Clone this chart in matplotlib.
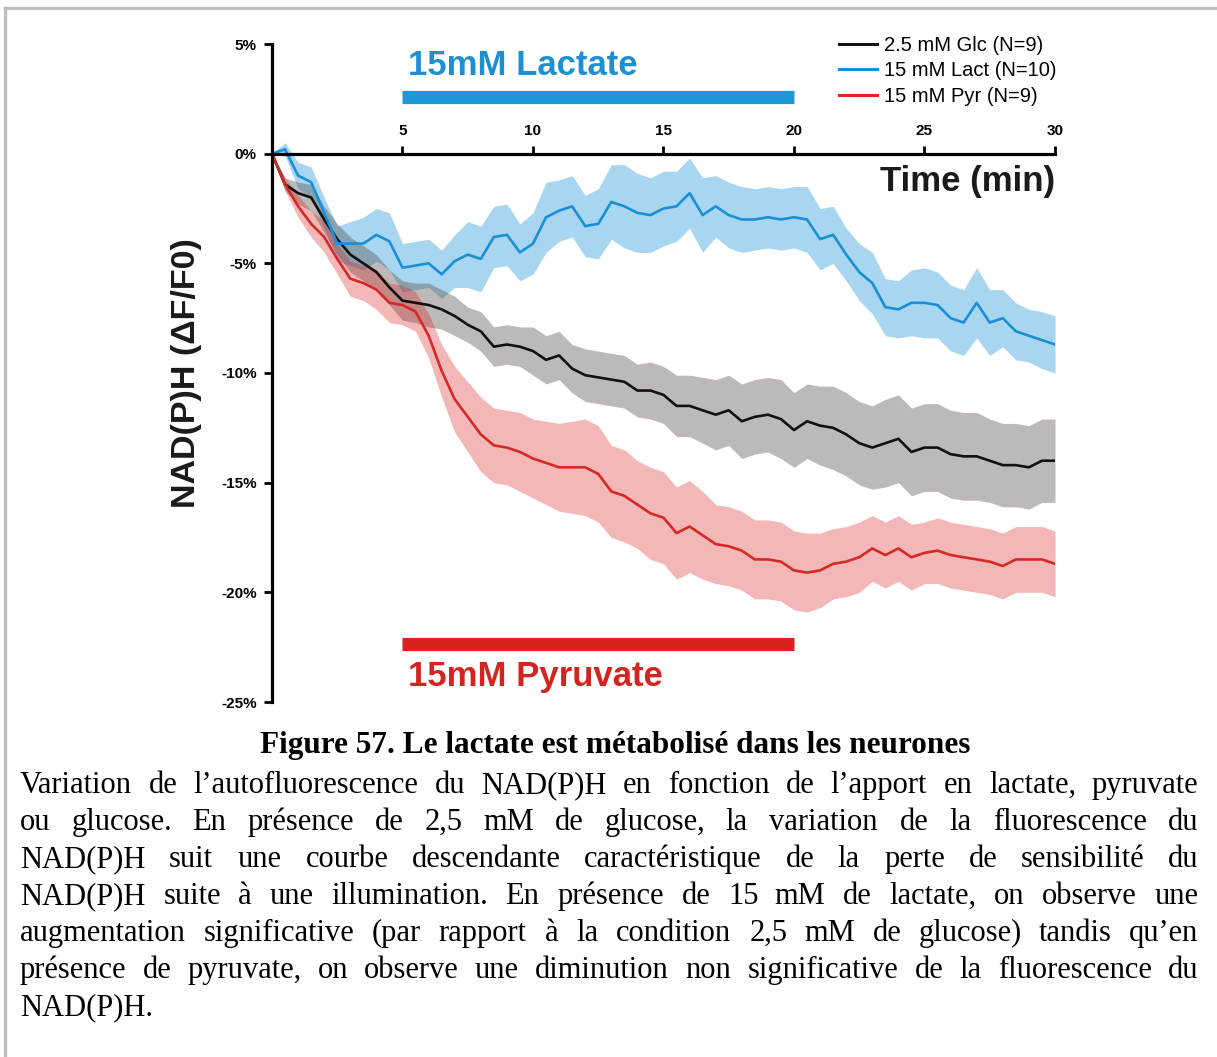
import numpy as np
import matplotlib
matplotlib.use("Agg")
import matplotlib.pyplot as plt
from matplotlib.lines import Line2D
from matplotlib.textpath import TextPath
from matplotlib.font_manager import FontProperties

# ---------------- data ----------------
time_min = np.linspace(0, 30, 61)

glc_mean = [0.0, -1.4, -1.8, -2.0, -3.0, -3.9, -4.6, -5.0, -5.4, -6.1,
            -6.7, -6.8, -6.9, -7.1, -7.4, -7.8, -8.1, -8.8, -8.7, -8.8,
            -9.0, -9.4, -9.2, -9.8, -10.1, -10.2, -10.3, -10.4, -10.8, -10.8,
            -11.0, -11.5, -11.5, -11.7, -11.9, -11.7, -12.2, -12.0, -11.9, -12.1,
            -12.6, -12.2, -12.4, -12.5, -12.8, -13.2, -13.4, -13.2, -13.0, -13.6,
            -13.4, -13.4, -13.7, -13.8, -13.8, -14.0, -14.2, -14.2, -14.3, -14.0,
            -14.0]
glc_sem = [0.0, 0.3, 0.5, 0.6, 0.6, 0.7, 0.8, 0.8, 0.8, 0.8,
           0.9, 0.9, 1.0, 0.9, 0.9, 0.8, 0.9, 0.9, 0.9, 0.9,
           1.1, 1.1, 1.1, 1.1, 1.2, 1.2, 1.2, 1.2, 1.2, 1.3,
           1.3, 1.4, 1.4, 1.5, 1.6, 1.6, 1.7, 1.7, 1.7, 1.8,
           1.7, 1.7, 1.8, 1.9, 1.9, 1.9, 1.9, 2.0, 2.0, 2.0,
           2.0, 2.0, 2.0, 2.0, 2.0, 1.9, 1.9, 1.9, 1.9, 1.9,
           1.9]

lact_mean = [0.0, 0.2, -1.0, -1.3, -2.7, -4.1, -4.1, -4.1, -3.7, -4.0,
             -5.2, -5.1, -5.0, -5.5, -4.9, -4.6, -4.8, -3.8, -3.7, -4.5,
             -4.1, -2.9, -2.6, -2.4, -3.3, -3.2, -2.2, -2.4, -2.7, -2.8,
             -2.5, -2.4, -1.8, -2.8, -2.4, -2.8, -3.0, -3.0, -2.9, -3.0,
             -2.9, -3.0, -3.9, -3.7, -4.6, -5.4, -5.9, -7.0, -7.1, -6.8,
             -6.8, -6.9, -7.5, -7.7, -6.8, -7.7, -7.5, -8.1, -8.3, -8.5,
             -8.7]
lact_sem = [0.0, 0.3, 0.6, 0.7, 0.7, 0.8, 1.0, 1.2, 1.2, 1.3,
            1.1, 1.1, 1.1, 1.1, 1.2, 1.5, 1.5, 1.4, 1.4, 1.3,
            1.4, 1.6, 1.4, 1.4, 1.4, 1.6, 1.7, 1.9, 1.8, 1.7,
            1.7, 1.6, 1.6, 1.7, 1.4, 1.5, 1.5, 1.4, 1.4, 1.4,
            1.4, 1.5, 1.4, 1.3, 1.2, 1.3, 1.4, 1.3, 1.3, 1.5,
            1.6, 1.5, 1.5, 1.5, 1.6, 1.5, 1.3, 1.3, 1.2, 1.3,
            1.3]

pyr_mean = [0.0, -1.4, -2.4, -3.2, -3.8, -4.8, -5.7, -5.9, -6.2, -6.8,
            -6.9, -7.2, -8.3, -9.9, -11.2, -12.0, -12.8, -13.3, -13.4, -13.6,
            -13.9, -14.1, -14.3, -14.3, -14.3, -14.6, -15.4, -15.6, -16.0, -16.4,
            -16.6, -17.3, -17.0, -17.4, -17.8, -17.9, -18.1, -18.5, -18.5, -18.6,
            -19.0, -19.1, -19.0, -18.7, -18.6, -18.4, -18.0, -18.3, -18.0, -18.4,
            -18.2, -18.1, -18.3, -18.4, -18.5, -18.6, -18.8, -18.5, -18.5, -18.5,
            -18.7]
pyr_sem = [0.0, 0.3, 0.5, 0.6, 0.7, 0.7, 0.8, 0.8, 0.9, 0.9,
           0.9, 0.9, 1.0, 1.2, 1.5, 1.6, 1.7, 1.7, 1.7, 1.8,
           1.8, 1.9, 2.0, 2.1, 2.2, 2.2, 2.1, 2.1, 2.0, 2.1,
           2.1, 2.1, 2.1, 2.0, 1.8, 1.8, 1.8, 1.8, 1.8, 1.8,
           1.8, 1.8, 1.7, 1.6, 1.6, 1.6, 1.5, 1.5, 1.5, 1.5,
           1.4, 1.5, 1.5, 1.5, 1.5, 1.5, 1.5, 1.5, 1.5, 1.5,
           1.5]

series_labels = ["2.5 mM Glc (N=9)", "15 mM Lact (N=10)", "15 mM Pyr (N=9)"]
lactate_period = (5, 20)
pyruvate_period = (5, 20)
x_ticks = [5, 10, 15, 20, 25, 30]
y_ticks = [5, 0, -5, -10, -15, -20, -25]
y_tick_labels = ["5%", "0%", "-5%", "-10%", "-15%", "-20%", "-25%"]

caption_title = "Figure 57. Le lactate est métabolisé dans les neurones"
caption_lines = [
    "Variation de l’autofluorescence du NAD(P)H en fonction de l’apport en lactate, pyruvate",
    "ou glucose. En présence de 2,5 mM de glucose, la variation de la fluorescence du",
    "NAD(P)H suit une courbe descendante caractéristique de la perte de sensibilité du",
    "NAD(P)H suite à une illumination. En présence de 15 mM de lactate, on observe une",
    "augmentation significative (par rapport à la condition 2,5 mM de glucose) tandis qu’en",
    "présence de pyruvate, on observe une diminution non significative de la fluorescence du",
    "NAD(P)H.",
]

# ---------------- style ----------------
W, H = 1217, 1057
DPI = 100
sans = ["Liberation Sans", "DejaVu Sans"]
serif = ["Liberation Serif", "DejaVu Serif"]
c_glc, c_glc_fill = "#111111", "#5a524e"
c_lact, c_lact_fill = "#1a8fd6", "#1a95dc"
c_pyr, c_pyr_fill = "#d42a26", "#dc2020"

fig = plt.figure(figsize=(W / DPI, H / DPI), dpi=DPI)
fig.patch.set_facecolor("white")

def fx(px):
    return px / W

def fy(py):
    return 1 - py / H

ax = fig.add_axes([fx(272), fy(702), fx(1055) - fx(272), fy(44) - fy(702)])
ax.set_xlim(0, 30)
ax.set_ylim(-25, 5)

t = time_min
for mean, sem, fc, a in [(lact_mean, lact_sem, c_lact_fill, 0.38),
                         (glc_mean, glc_sem, c_glc_fill, 0.40),
                         (pyr_mean, pyr_sem, c_pyr_fill, 0.32)]:
    m = np.array(mean); s = np.array(sem)
    ax.fill_between(t, m - s, m + s, color=fc, alpha=a, lw=0)

h_glc, = ax.plot(t, glc_mean, color=c_glc, lw=1.9)
h_lact, = ax.plot(t, lact_mean, color=c_lact, lw=1.9)
h_pyr, = ax.plot(t, pyr_mean, color=c_pyr, lw=1.9)

# treatment bars
ax.plot(lactate_period, [2.6, 2.6], color="#1e98d8", lw=9.5, solid_capstyle="butt")
ax.text(lactate_period[0] + 0.2, 4.0, "15mM Lactate", color="#1e90d2", fontsize=25,
        fontweight="bold", family=sans, ha="left", va="center")
ax.plot(pyruvate_period, [-22.37, -22.37], color="#d9231f", lw=9.5, solid_capstyle="butt")
ax.text(pyruvate_period[0] + 0.2, -23.85, "15mM Pyruvate", color="#d42420", fontsize=25,
        fontweight="bold", family=sans, ha="left", va="center")

ax.text(30, -1.25, "Time (min)", color="#1a1a1a", fontsize=25, fontweight="bold",
        family=sans, ha="right", va="center")

# axes styling
for sp in ["right", "bottom"]:
    ax.spines[sp].set_visible(False)
ax.spines["top"].set_position(("data", 0))
ax.spines["top"].set_linewidth(2.3)
ax.spines["left"].set_linewidth(2.3)
ax.xaxis.set_ticks_position("top")
ax.set_xticks(x_ticks)
ax.set_xticklabels([str(v) for v in x_ticks])
ax.set_yticks(y_ticks)
ax.set_yticklabels(y_tick_labels)
ax.tick_params(axis="x", direction="out", length=6, width=2.0, pad=5, labelsize=11)
ax.tick_params(axis="y", direction="out", length=6, width=2.0, pad=5, labelsize=11)
for lab in ax.get_xticklabels() + ax.get_yticklabels():
    lab.set_fontweight("bold")
    lab.set_family(sans)
ax.set_facecolor("none")

fig.text(fx(187), fy(373), "NAD(P)H (\u0394F/F0)", rotation=90, ha="center", va="center",
         fontsize=24.5, fontweight="bold", family=sans, color="#1a1a1a")

leg = ax.legend([h_glc, h_lact, h_pyr], series_labels, loc="upper left",
                bbox_to_anchor=(fx(839), fy(36)), bbox_transform=fig.transFigure,
                frameon=False, handlelength=1.9, handletextpad=0.35,
                labelspacing=0.32, borderpad=0, borderaxespad=0,
                prop={"family": sans, "size": 14.5})
for ln in leg.get_lines():
    ln.set_linewidth(2.2)

# frame of the page
fig.add_artist(Line2D([fx(5), fx(5)], [fy(8), -0.01], transform=fig.transFigure,
                      color="#bfbfbf", lw=2.4))
fig.add_artist(Line2D([fx(5), 1.01], [fy(8), fy(8)], transform=fig.transFigure,
                      color="#bfbfbf", lw=2.4))

# caption
fig.text(fx(615), fy(745), caption_title, ha="center", va="center", fontsize=22.5,
         fontweight="bold", family=serif, color="black")

body_size = 22
fp_body = FontProperties(family=serif, size=body_size)

def text_width(s):
    # width in output pixels
    return TextPath((0, 0), s, prop=fp_body).get_extents().width * DPI / 72.0

left_px, right_px = 20, 1197
space_w = text_width("a a") - text_width("aa")
for i, line in enumerate(caption_lines):
    base_y = 793 + 37 * i
    words = line.split(" ")
    widths = [text_width(w) for w in words]
    if i < len(caption_lines) - 1 and len(words) > 1:
        gap = (right_px - left_px - sum(widths)) / (len(words) - 1)
    else:
        gap = space_w
    x = left_px
    for w, wd in zip(words, widths):
        fig.text(fx(x), fy(base_y), w, fontproperties=fp_body,
                 ha="left", va="baseline", color="black")
        x += wd + gap

fig.savefig("out.png", dpi=DPI, facecolor="white")
